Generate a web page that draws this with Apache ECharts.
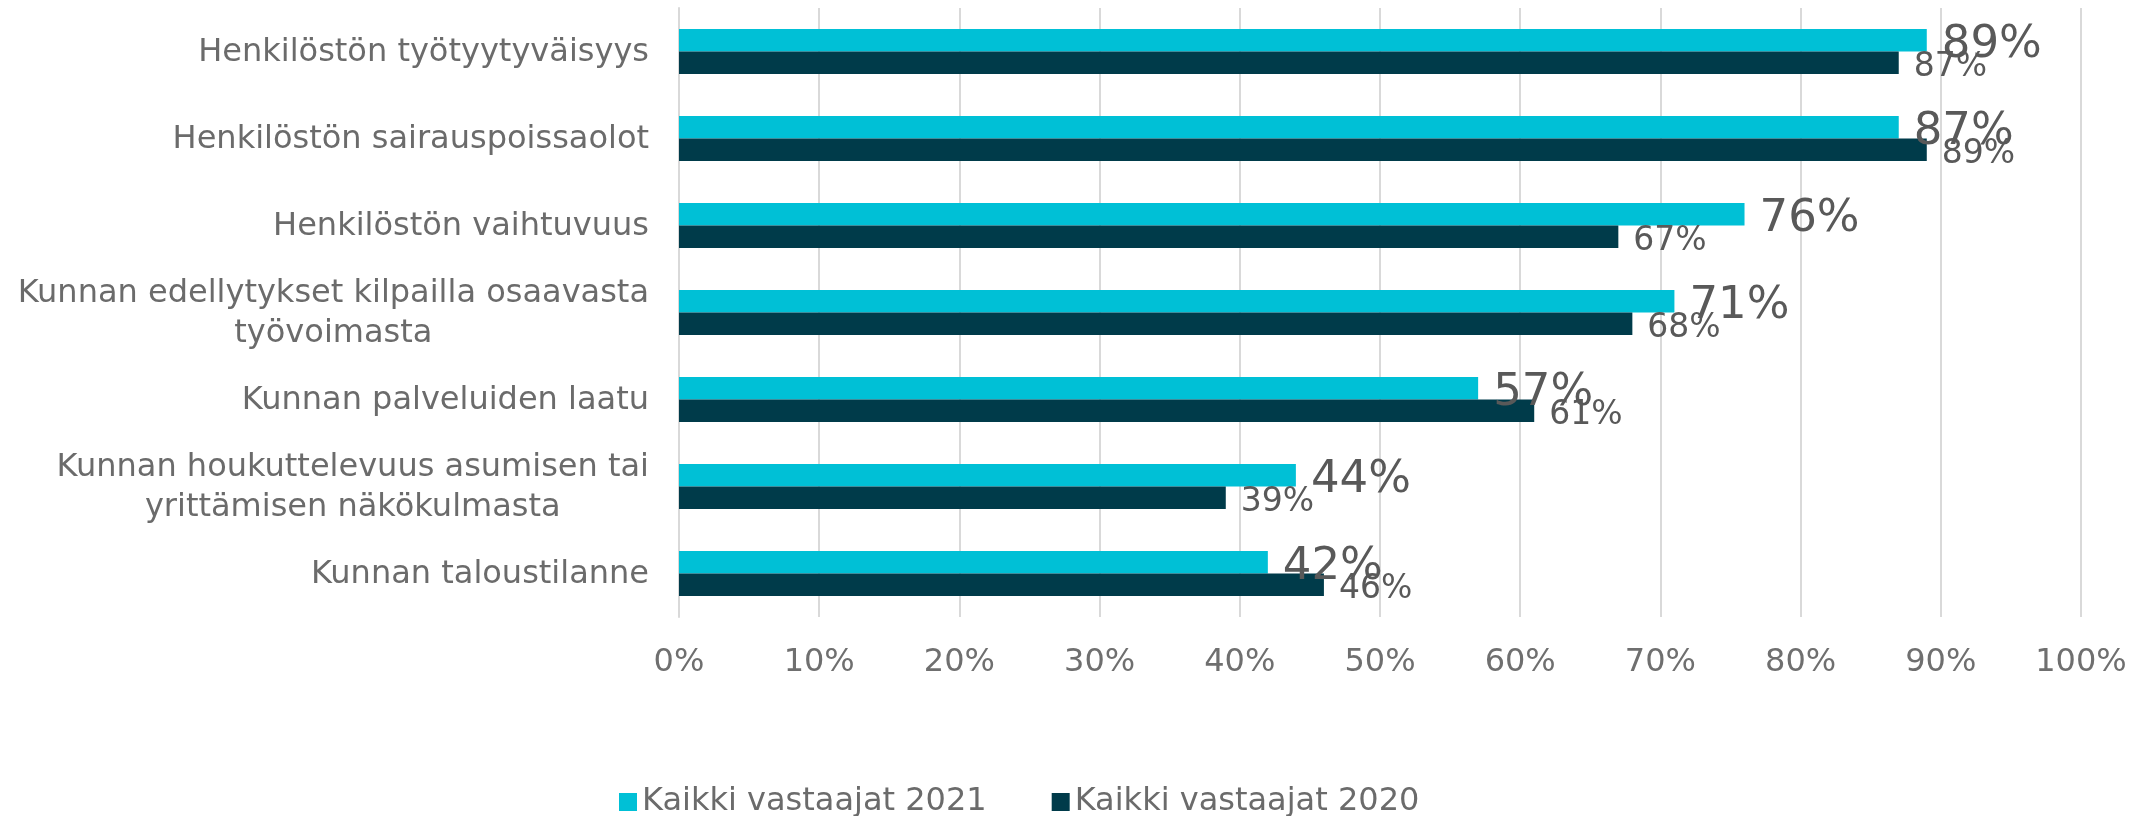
<!DOCTYPE html>
<html>
<head>
<meta charset="utf-8">
<title>Kunnan vetovoimatekijät</title>
<script src="https://cdn.jsdelivr.net/npm/echarts@6/dist/echarts.min.js"></script>
<style>
  html, body { margin: 0; padding: 0; background: #ffffff; }
  #chart { width: 2151px; height: 816px; }
</style>
</head>
<body>
<div id="chart"></div>
<script>
// Categories, listed top to bottom
const categories = [
  'Henkilöstön työtyytyväisyys',
  'Henkilöstön sairauspoissaolot',
  'Henkilöstön vaihtuvuus',
  'Kunnan edellytykset kilpailla osaavasta\ntyövoimasta',
  'Kunnan palveluiden laatu',
  'Kunnan houkuttelevuus asumisen tai\nyrittämisen näkökulmasta',
  'Kunnan taloustilanne'
];

// Share of respondents (%)
const values2021 = [89, 87, 76, 71, 57, 44, 42];
const values2020 = [87, 89, 67, 68, 61, 39, 46];

const seriesNames = ['Kaikki vastaajat 2021', 'Kaikki vastaajat 2020'];

// Value axis ticks
const axisMin = 0;
const axisMax = 100;
const axisStep = 10;

const FONT = '"DejaVu Sans", Verdana, sans-serif';
const CYAN = '#00C0D6';
const DARK = '#003B4A';

const chart = echarts.init(document.getElementById('chart'));

chart.setOption({
  backgroundColor: '#ffffff',
  animation: false,
  textStyle: { fontFamily: FONT },
  grid: { left: 679, right: 70, top: 8, height: 609, containLabel: false },
  legend: {
    left: 614,
    top: 779,
    itemWidth: 18,
    itemHeight: 18,
    itemGap: 65,
    icon: 'rect',
    textStyle: { fontFamily: FONT, fontSize: 32, color: '#6b6b6b', lineHeight: 36, padding: [0, 0, 0, 0] },
    data: seriesNames
  },
  xAxis: {
    type: 'value',
    min: axisMin,
    max: axisMax,
    interval: axisStep,
    axisLine: { show: false },
    axisTick: { show: false },
    splitLine: { show: true, lineStyle: { color: '#d9d9d9', width: 2 } },
    axisLabel: {
      formatter: '{value}%',
      fontFamily: FONT,
      fontSize: 32,
      color: '#6f6f6f',
      margin: 30
    }
  },
  yAxis: {
    type: 'category',
    inverse: true,
    data: categories,
    axisLine: { show: true, lineStyle: { color: '#d9d9d9', width: 2 } },
    axisTick: { show: false },
    axisLabel: {
      margin: 30,
      formatter: function (val) {
        return val.split('\n').map(function (line) { return '{c|' + line + '}'; }).join('\n');
      },
      rich: {
        c: { align: 'center', fontFamily: FONT, fontSize: 32, color: '#6b6b6b', lineHeight: 40, padding: [2, 0, 0, 0] }
      }
    }
  },
  series: [
    {
      name: seriesNames[0],
      type: 'bar',
      data: values2021,
      barGap: '0%',
      barCategoryGap: '48%',
      itemStyle: { color: CYAN },
      label: {
        show: true,
        position: 'right',
        distance: 15,
        offset: [0, 5],
        formatter: '{c}%',
        fontFamily: FONT,
        fontSize: 45,
        color: '#595959'
      }
    },
    {
      name: seriesNames[1],
      type: 'bar',
      data: values2020,
      barGap: '0%',
      barCategoryGap: '48%',
      itemStyle: { color: DARK },
      label: {
        show: true,
        position: 'right',
        distance: 15,
        offset: [0, 5],
        formatter: '{c}%',
        fontFamily: FONT,
        fontSize: 33,
        color: '#595959'
      }
    }
  ]
});
</script>
</body>
</html>
